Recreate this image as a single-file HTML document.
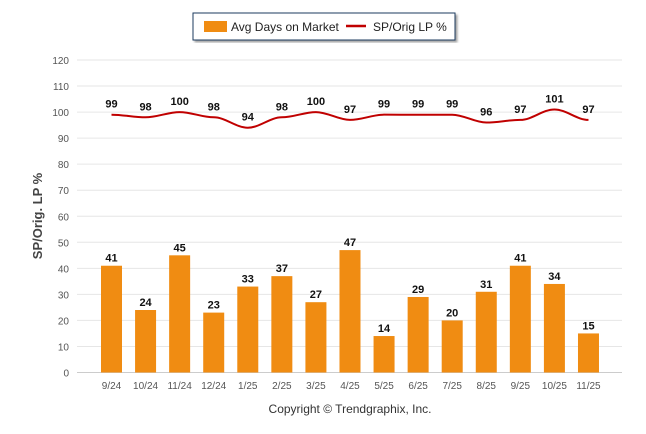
<!DOCTYPE html>
<html><head><meta charset="utf-8"><style>
body{margin:0;background:#fff;}
svg{display:block;font-family:"Liberation Sans",Arial,sans-serif;}
</style></head><body>
<svg id="c" width="646" height="434">
<defs><filter id="sh"><feDropShadow dx="2" dy="2" stdDeviation="1" flood-color="#666" flood-opacity="0.6"/></filter></defs>
<g>
<rect x="193" y="13" width="262" height="27" fill="#fff" stroke="#1f3a5f" stroke-width="1" filter="url(#sh)"/>
<rect x="204" y="21" width="23" height="11" fill="#f08c12"/>
<text x="231" y="31" font-size="12" fill="#222">Avg Days on Market</text>
<line x1="346" y1="26" x2="366" y2="26" stroke="#c00000" stroke-width="2.5"/>
<text x="373" y="31" font-size="12" fill="#222">SP/Orig LP %</text>
</g>
<text transform="translate(42,216) rotate(-90)" text-anchor="middle" font-size="13" font-weight="bold" fill="#444">SP/Orig. LP %</text>
<text x="350" y="413" text-anchor="middle" font-size="12" fill="#333">Copyright © Trendgraphix, Inc.</text>
<g id="grid"></g><g id="bars"></g><g id="line"></g><g id="labels"></g>
</svg>
<script>
const categories=["9/24","10/24","11/24","12/24","1/25","2/25","3/25","4/25","5/25","6/25","7/25","8/25","9/25","10/25","11/25"];
const daysOnMarket=[41,24,45,23,33,37,27,47,14,29,20,31,41,34,15];
const spOrigPct=[99,98,100,98,94,98,100,97,99,99,99,96,97,101,97];
const yTicks=[0,10,20,30,40,50,60,70,80,90,100,110,120];
const NS="http://www.w3.org/2000/svg";
const y0=372.5,yTop=60,yMax=120,left=77,right=622;
const y=v=>y0-(y0-yTop)*v/yMax;
const x=i=>111.5+34.07*i;
function mk(t,a,p){const e=document.createElementNS(NS,t);for(const k in a)e.setAttribute(k,a[k]);p.appendChild(e);return e;}
const grid=document.getElementById('grid'),bars=document.getElementById('bars'),line=document.getElementById('line'),labels=document.getElementById('labels');
yTicks.forEach(v=>{
 const l=mk('line',{x1:left,x2:right,y1:y(v),y2:y(v),stroke:'#e6e6e6','stroke-width':1},grid);
 
 
 const t=mk('text',{x:69,y:y(v)+4,'text-anchor':'end','font-size':10,fill:'#555'},grid);t.textContent=v;
 
 
});
const ax=mk('line',{x1:left,x2:right,y1:y0,y2:y0,stroke:'#ccc'},grid);


categories.forEach((c,i)=>{
 const r=mk('rect',{x:x(i)-10.5,y:y(daysOnMarket[i]),width:21,height:y0-y(daysOnMarket[i]),fill:'#f08c12'},bars);
 
 
 const t=mk('text',{x:x(i),y:y(daysOnMarket[i])-4,'text-anchor':'middle','font-size':11,'font-weight':'bold',fill:'#111'},labels);t.textContent=daysOnMarket[i];
 
 
 const xl=mk('text',{x:x(i),y:389,'text-anchor':'middle','font-size':10,fill:'#555'},labels);xl.textContent=c;
 
 
 const pt=mk('text',{x:x(i),y:y(spOrigPct[i])-7,'text-anchor':'middle','font-size':11,'font-weight':'bold',fill:'#111'},labels);pt.textContent=spOrigPct[i];
 
 
});
let d='';const P=spOrigPct.map((v,i)=>[x(i),y(v)]);
P.forEach((p,i)=>{if(!i){d='M'+p[0]+','+p[1];return;}
 const a=P[i-1],k=12;d+=` C${a[0]+k},${a[1]} ${p[0]-k},${p[1]} ${p[0]},${p[1]}`;});
const pl=mk('path',{d:d,fill:'none',stroke:'#c00000','stroke-width':2},line);


</script>
</body></html>
